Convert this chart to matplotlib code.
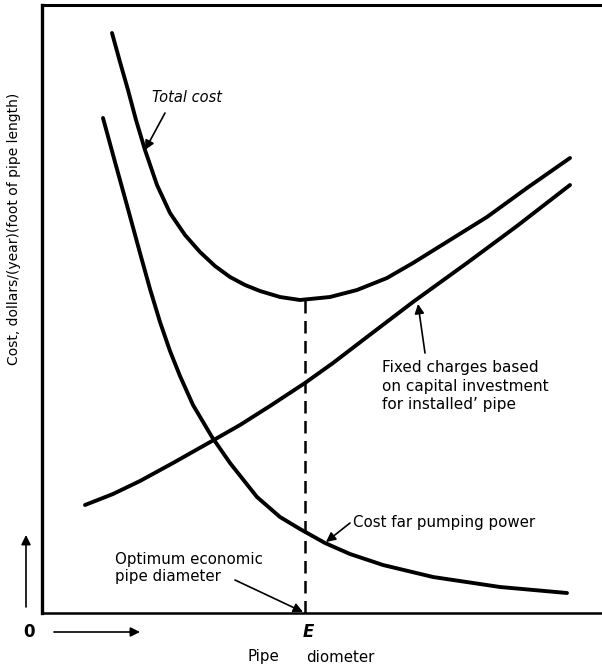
import numpy as np
import matplotlib
matplotlib.use('Agg')
import matplotlib.pyplot as plt

# ==========================================
# Dados (unidades arbitrárias: diâmetro x custo)
# ==========================================
total_d = [70, 78, 86, 94, 103, 115, 128, 143, 158, 173, 188, 203, 218, 238, 258,
           288, 315, 345, 371, 408, 445, 485, 528]
total_c = [580, 551, 523, 493, 463, 428, 400, 378, 361, 347, 336, 328, 322, 316, 313,
           316, 323, 335, 350, 373, 396, 425, 455]

pump_d = [61, 73, 86, 98, 108, 118, 128, 138, 151, 170, 188, 215, 238, 258, 283, 308,
          341, 391, 458, 525]
pump_c = [495, 451, 404, 360, 324, 291, 262, 237, 208, 176, 150, 116, 96, 84, 70, 59,
          48, 36, 26, 20]

fixed_d = [43, 71, 98, 131, 170, 198, 228, 263, 291, 325, 371, 425, 475, 528]
fixed_c = [108, 119, 132, 150, 172, 188, 207, 230, 250, 276, 311, 350, 387, 428]

d_otimo = 263
c_otimo = 313

# ==========================================
# Figura
# ==========================================
fig = plt.figure(figsize=(6.02, 6.67), dpi=100)
W, H = 602.0, 667.0
ax = fig.add_axes([42 / W, (H - 613) / H, 560 / W, 608 / H])
ax.set_xlim(0, 560)
ax.set_ylim(0, 608)

ax.spines['right'].set_visible(False)
ax.spines['left'].set_linewidth(2.4)
ax.spines['top'].set_linewidth(2.2)
ax.spines['bottom'].set_linewidth(1.8)
ax.set_xticks([])
ax.set_yticks([])

lw = 2.8
ax.plot(total_d, total_c, 'k-', lw=lw, solid_capstyle='round', solid_joinstyle='round')
ax.plot(pump_d, pump_c, 'k-', lw=lw, solid_capstyle='round', solid_joinstyle='round')
ax.plot(fixed_d, fixed_c, 'k-', lw=lw, solid_capstyle='round', solid_joinstyle='round')

# linha tracejada no ótimo
ax.plot([d_otimo, d_otimo], [0, c_otimo], 'k--', lw=1.8, dashes=(5, 3))

fonte = 'DejaVu Sans'
seta = dict(arrowstyle='-|>', color='k', lw=1.2, mutation_scale=14,
            shrinkA=0, shrinkB=0)

# textos
ax.text(110, 516, 'Total cost', fontsize=10.5, style='italic', family=fonte,
        ha='left', va='center')
ax.annotate('', xy=(103, 463), xytext=(123, 500), arrowprops=seta)

ax.text(340, 227, 'Fixed charges based\non capital investment\nfor installed\u2019 pipe',
        fontsize=11, family=fonte, ha='left', va='center', linespacing=1.3)
ax.annotate('', xy=(376, 309), xytext=(383, 260), arrowprops=seta)

ax.text(311, 91, 'Cost far pumping power', fontsize=10.8, family=fonte,
        ha='left', va='center')
ax.annotate('', xy=(284, 71), xytext=(308, 90), arrowprops=seta)

ax.text(73, 45, 'Optimum economic\npipe diameter', fontsize=10.8, family=fonte,
        ha='left', va='center', linespacing=1.15)
ax.annotate('', xy=(261, 1), xytext=(193, 33), arrowprops=seta)

# rótulos dos eixos
ax.text(d_otimo + 3, -19, 'E', fontsize=12, style='italic', fontweight='bold',
        family=fonte, ha='center', va='center', clip_on=False)
ax.text(221, -44, 'Pipe', fontsize=10.8, family=fonte,
        ha='center', va='center', clip_on=False)
ax.text(298, -44, 'diometer', fontsize=10.8, family=fonte,
        ha='center', va='center', clip_on=False)
ax.text(-13, -19, '0', fontsize=12, fontweight='bold', family=fonte,
        ha='center', va='center', clip_on=False)
ax.text(-28, 384, 'Cost, dollars/(year)(foot of pipe length)', fontsize=10,
        family=fonte, rotation=90, ha='center', va='center', clip_on=False)

ax.annotate('', xy=(98, -19), xytext=(12, -19), annotation_clip=False, arrowprops=seta)
ax.annotate('', xy=(-16, 78), xytext=(-16, 6), annotation_clip=False, arrowprops=seta)

plt.savefig('out.png', dpi=100)
